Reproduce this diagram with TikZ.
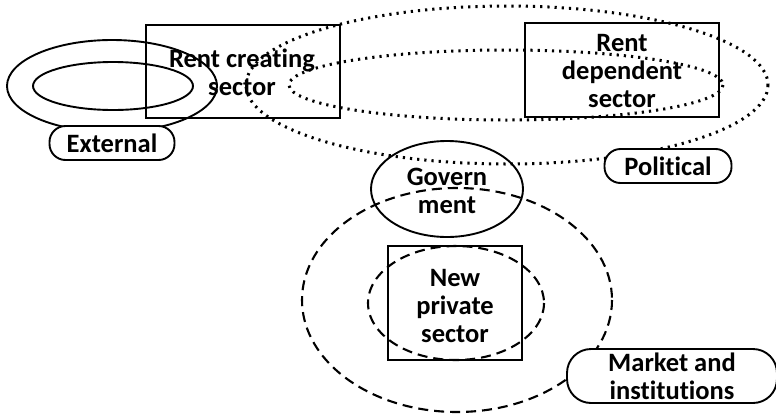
\documentclass[tikz,border=0pt]{standalone}
\usepackage{fontspec}
\setmainfont{Carlito}[Ligatures={NoCommon}]
\begin{document}
\begin{tikzpicture}[x=1pt,y=-1pt,
  solidline/.style={line width=1.9pt},
  dotline/.style={line width=3pt, dash pattern=on 2.2pt off 5pt},
  dashline/.style={line width=2.1pt, dash pattern=on 10pt off 6pt},
  lbl/.style={font=\fontsize{26.5}{28}\selectfont\bfseries, align=center, inner sep=0pt},
  pill/.style={draw, solidline, rounded corners=16pt, fill=white, lbl}
]
\useasboundingbox (0,0) rectangle (776,418);
% external ellipses
\draw[solidline] (112,86) ellipse [x radius=105, y radius=46];
\draw[solidline] (113,86) ellipse [x radius=80, y radius=24];
% political dotted ellipses
\draw[dotline] (507,85) ellipse [x radius=261, y radius=79];
\draw[dotline] (506,85) ellipse [x radius=217, y radius=35];
% market dashed ellipses
\draw[dashline] (457,300) ellipse [x radius=155, y radius=112];
\draw[dashline] (456,303) ellipse [x radius=88, y radius=57];
% government ellipse
\draw[solidline] (447,189) ellipse [x radius=76, y radius=48];
% boxes
\draw[solidline] (146,25) rectangle (340,118);
\node[lbl] (rc) at (242,72) {Rent creating\\sector};
\draw[solidline] (525,23) rectangle (719,117);
\node[lbl] (rd) at (622,71) {Rent\\dependent\\sector};
\draw[solidline] (388,246) rectangle (522,360);
\node[lbl] (np) at (455,306) {New\\private\\sector};
\node[lbl] (gov) at (447,191) {Govern\\ment};
% pills
\node[pill, minimum width=125pt, minimum height=34pt] (ext) at (112,143) {External};
\node[pill, minimum width=127pt, minimum height=34pt] (pol) at (668,166) {Political};
\node[pill, rounded corners=24pt, minimum width=210pt, minimum height=54pt] (mkt) at (672,376) {Market and\\institutions};
\end{tikzpicture}
\end{document}
